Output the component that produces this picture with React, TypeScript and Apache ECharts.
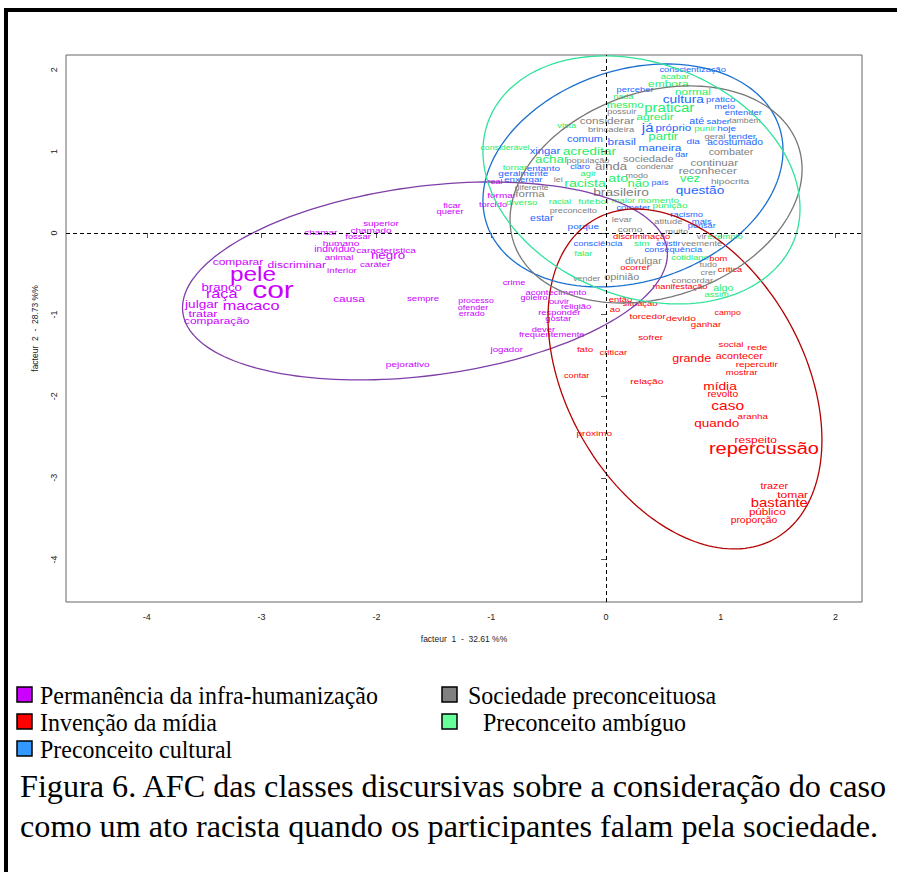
import React, { useEffect, useRef } from "react";
import * as echarts from "echarts";

// ---- DATA ----
const classNames = [
  "Permanência da infra-humanização",
  "Invenção da mídia",
  "Preconceito cultural",
  "Sociedade preconceituosa",
  "Preconceito ambíguo",
];

type W = [string, number, number, number]; // word, factor1, factor2, weight

const permanenciaWords: W[] = [
  ["ficar", -1.341, 0.335, 15], ["querer", -1.359, 0.27, 15], ["superior", -1.96, 0.123, 19],
  ["chamar", -2.485, 0.004, 19], ["chamado", -2.047, 0.037, 20], ["fossar", -2.16, -0.037, 15],
  ["humano", -2.308, -0.123, 21], ["indivíduo", -2.363, -0.2, 22], ["característica", -1.916, -0.208, 20],
  ["negro", -1.899, -0.27, 47], ["animal", -2.326, -0.303, 18], ["caráter", -2.012, -0.38, 18],
  ["inferior", -2.3, -0.453, 18], ["comparar", -3.206, -0.355, 36], ["discriminar", -2.694, -0.388, 37],
  ["pele", -3.075, -0.511, 135], ["cor", -2.901, -0.699, 180], ["branco", -3.348, -0.665, 46],
  ["raça", -3.348, -0.739, 70], ["macaco", -3.092, -0.895, 70], ["julgar", -3.522, -0.874, 49],
  ["tratar", -3.511, -0.984, 39], ["comparação", -3.391, -1.078, 35], ["causa", -2.239, -0.797, 35],
  ["sempre", -1.594, -0.8, 17], ["processo", -1.132, -0.825, 10], ["ofender", -1.159, -0.915, 12],
  ["errado", -1.17, -0.989, 12], ["pejorativo", -1.727, -1.605, 21], ["formar", -0.909, 0.466, 20],
  ["torcido", -0.984, 0.355, 15], ["real", -0.967, 0.629, 12], ["crime", -0.801, -0.609, 15],
  ["acontecimento", -0.436, -0.732, 15], ["goleiro", -0.627, -0.793, 12], ["ouvir", -0.409, -0.833, 15],
  ["religião", -0.261, -0.903, 15], ["responder", -0.407, -0.968, 15], ["gostar", -0.416, -1.045, 15],
  ["dever", -0.546, -1.18, 15], ["frequentemente", -0.473, -1.241, 15], ["jogador", -0.865, -1.425, 18],
];

const invencaoWords: W[] = [
  ["discriminação", 0.311, -0.045, 15], ["bom", 0.978, -0.31, 15], ["ocorrer", 0.253, -0.425, 15],
  ["crítica", 1.08, -0.453, 13], ["manifestação", 0.645, -0.65, 14], ["então", 0.126, -0.813, 15],
  ["situação", 0.296, -0.862, 15], ["ao", 0.078, -0.935, 15], ["torcedor", 0.363, -1.026, 19],
  ["devido", 0.653, -1.045, 21], ["ganhar", 0.871, -1.119, 18], ["campo", 1.06, -0.984, 10],
  ["sofrer", 0.389, -1.278, 18], ["social", 1.089, -1.364, 18], ["rede", 1.318, -1.406, 20],
  ["grande", 0.747, -1.536, 40], ["acontecer", 1.161, -1.507, 26], ["repercutir", 1.313, -1.609, 20],
  ["mostrar", 1.182, -1.707, 15], ["criticar", 0.064, -1.467, 15], ["fato", -0.183, -1.425, 18],
  ["contar", -0.255, -1.752, 13], ["relação", 0.355, -1.822, 21], ["mídia", 0.993, -1.884, 50],
  ["revolto", 1.017, -1.977, 22], ["caso", 1.06, -2.116, 64], ["aranha", 1.278, -2.251, 18],
  ["quando", 0.964, -2.332, 48], ["próximo", -0.102, -2.455, 20], ["respeito", 1.304, -2.528, 35],
  ["repercussão", 1.376, -2.638, 100], ["trazer", 1.466, -3.104, 27], ["tomar", 1.626, -3.199, 37],
  ["bastante", 1.51, -3.305, 59], ["público", 1.405, -3.411, 33], ["proporção", 1.289, -3.513, 23],
];

const culturalWords: W[] = [
  ["conscientização", 0.755, 2.006, 15], ["perceber", 0.253, 1.761, 15], ["cultura", 0.673, 1.638, 50],
  ["prático", 0.999, 1.638, 18], ["meio", 1.034, 1.548, 15], ["entender", 1.196, 1.474, 15],
  ["até", 0.79, 1.373, 25], ["saber", 0.978, 1.364, 15], ["hoje", 1.051, 1.283, 20],
  ["já", 0.363, 1.29, 60], ["próprio", 0.586, 1.283, 32], ["tender", 1.187, 1.189, 18],
  ["brasil", 0.137, 1.119, 35], ["dia", 0.76, 1.127, 20], ["acostumado", 1.124, 1.107, 22],
  ["maneira", 0.47, 1.045, 35], ["dar", 0.659, 0.964, 12], ["comum", -0.183, 1.152, 28],
  ["xingar", -0.531, 1.009, 30], ["claro", -0.226, 0.813, 13], ["entanto", -0.546, 0.793, 20],
  ["geralmente", -0.72, 0.732, 20], ["enxergar", -0.72, 0.658, 18], ["país", 0.47, 0.616, 12],
  ["questão", 0.819, 0.518, 49], ["cometer", 0.238, 0.31, 15], ["racismo", 0.703, 0.229, 15],
  ["mais", 0.834, 0.147, 15], ["pensar", 0.834, 0.086, 13], ["estar", -0.56, 0.18, 24],
  ["porque", -0.198, 0.077, 21], ["consciência", -0.07, -0.123, 15], ["existir", 0.543, -0.126, 15],
  ["consequência", 0.586, -0.2, 15],
];

const sociedadeWords: W[] = [
  ["possuir", 0.137, 1.487, 12], ["considerar", 0.009, 1.373, 34], ["brincadeira", 0.044, 1.271, 15],
  ["população", -0.157, 0.895, 15], ["ainda", 0.044, 0.809, 45], ["sociedade", 0.368, 0.903, 29],
  ["condenar", 0.427, 0.813, 12], ["modo", 0.267, 0.702, 12], ["combater", 1.089, 0.996, 26],
  ["continuar", 0.943, 0.862, 33], ["reconhecer", 0.886, 0.76, 33], ["hipócrita", 1.08, 0.629, 21],
  ["brasileiro", 0.131, 0.502, 50], ["preconceito", -0.285, 0.27, 13], ["levar", 0.137, 0.172, 14],
  ["atitude", 0.543, 0.147, 15], ["como", 0.209, 0.045, 20], ["muito", 0.616, 0.025, 15],
  ["vir", 0.834, -0.037, 15], ["veemente", 0.834, -0.126, 15], ["divulgar", 0.325, -0.343, 24],
  ["tudo", 0.891, -0.392, 12], ["crer", 0.891, -0.487, 12], ["concordar", 0.752, -0.585, 15],
  ["opinião", 0.137, -0.536, 27], ["vender", -0.168, -0.567, 11], ["geral", 0.949, 1.189, 15],
  ["também", 1.211, 1.373, 10], ["diferente", -0.647, 0.548, 10], ["lei", -0.416, 0.65, 12],
  ["forma", -0.662, 0.474, 32],
];

const ambiguoWords: W[] = [
  ["acabar", 0.601, 1.915, 15], ["embora", 0.543, 1.835, 36], ["normal", 0.758, 1.74, 34],
  ["nada", 0.151, 1.67, 13], ["mesmo", 0.166, 1.569, 30], ["praticar", 0.551, 1.536, 60],
  ["agredir", 0.427, 1.425, 36], ["punir", 0.862, 1.283, 18], ["partir", 0.499, 1.18, 45],
  ["vista", -0.342, 1.311, 13], ["considerável", -0.88, 1.038, 10], ["acreditar", -0.145, 0.996, 50],
  ["achar", -0.473, 0.895, 47], ["tornar", -0.793, 0.805, 15], ["agir", -0.154, 0.732, 15],
  ["ato", 0.107, 0.67, 55], ["não", 0.281, 0.616, 44], ["vez", 0.732, 0.67, 43],
  ["racista", -0.183, 0.616, 53], ["racial", -0.401, 0.384, 15], ["futebol", -0.111, 0.384, 20],
  ["diverso", -0.734, 0.376, 18], ["maior", 0.151, 0.404, 15], ["momento", 0.456, 0.404, 19],
  ["punição", 0.557, 0.335, 20], ["falar", -0.198, -0.249, 15], ["algo", 1.022, -0.678, 25],
  ["assim", 0.964, -0.751, 15], ["sim", 0.311, -0.126, 20], ["cotidiano", 0.732, -0.298, 15],
  ["exemplo", 1.037, -0.037, 15],
];

// confidence ellipses: [centre f1, centre f2, half-extent f1, half-extent f2, correlation]
const permanenciaEllipse = [-1.577, -0.588, 2.112, 1.213, 0.271];
const invencaoEllipse = [0.688, -1.789, 1.193, 2.083, -0.359];
const culturalEllipse = [0.235, 0.705, 1.307, 1.366, 0.224];
const sociedadeEllipse = [0.436, 0.472, 1.272, 1.33, 0.233];
const ambiguoEllipse = [0.309, 0.65, 1.381, 1.52, -0.23];

const xTicks = [-4, -3, -2, -1, 0, 1, 2];
const yTicks = [-4, -3, -2, -1, 0, 1, 2];
const xTitle = "facteur  1  -  32.61 %%";
const yTitle = "facteur  2  -  28.73 %%";
const captionLines = [
  "Figura 6. AFC das classes discursivas sobre a consideração do caso",
  "como um ato racista quando os participantes falam pela sociedade.",
];

// ---- STYLE ----
const wordColors = ["#cc00ff", "#ff0000", "#1a66ff", "#808080", "#1fee66"];
const ellipseColors = ["#7f3fa8", "#b40000", "#1a70d0", "#777777", "#2fe39a"];
const legendColors = ["#cc00ff", "#ff0000", "#3399ff", "#808080", "#66ff99"];
const SANS = "'Liberation Sans', Arial, sans-serif";
const SERIF = "'Liberation Serif', 'Times New Roman', serif";

function wordSeries(name: string, words: W[], color: string) {
  return {
    name,
    type: "custom",
    coordinateSystem: "cartesian2d",
    clip: true,
    z: 3,
    data: words.map((w) => [w[1], w[2], w[3]]),
    renderItem: (params: any, api: any) => {
      const i = params.dataIndex;
      const p = api.coord([api.value(0), api.value(1)]);
      const fs = 6 + api.value(2) * 0.1;
      return {
        type: "text",
        x: p[0],
        y: p[1],
        scaleX: 1.25,
        style: {
          text: words[i][0],
          fill: color,
          fontSize: fs,
          fontFamily: SANS,
          align: "center",
          verticalAlign: "middle",
        },
      };
    },
  };
}

function ellipseSeries(e: number[], color: string) {
  return {
    type: "custom",
    coordinateSystem: "cartesian2d",
    clip: true,
    z: 4,
    silent: true,
    data: [[e[0], e[1]]],
    renderItem: (_params: any, api: any) => {
      const pts: number[][] = [];
      const n = 180;
      const s = Math.sqrt(1 - e[4] * e[4]);
      for (let k = 0; k <= n; k++) {
        const t = (k / n) * Math.PI * 2;
        const x = e[0] + e[2] * Math.cos(t);
        const y = e[1] + e[3] * (e[4] * Math.cos(t) + s * Math.sin(t));
        pts.push(api.coord([x, y]));
      }
      return {
        type: "polyline",
        shape: { points: pts },
        style: { stroke: color, fill: null, lineWidth: 1.3 },
      };
    },
  };
}

export default function App() {
  const ref = useRef<HTMLDivElement>(null);
  useEffect(() => {
    if (!ref.current) return;
    const chart = echarts.init(ref.current, undefined, { renderer: "svg" });
    const allWords = [permanenciaWords, invencaoWords, culturalWords, sociedadeWords, ambiguoWords];
    const allEllipses = [permanenciaEllipse, invencaoEllipse, culturalEllipse, sociedadeEllipse, ambiguoEllipse];

    const legendPos = [
      [17, 687], [17, 714], [17, 741], [442, 687], [442, 714],
    ];
    const legendTextX = [40, 40, 40, 468, 483];

    const graphics: any[] = [
      { type: "line", shape: { x1: 6, y1: 8, x2: 6, y2: 872 }, style: { stroke: "#000", lineWidth: 4 } },
      { type: "line", shape: { x1: 4, y1: 10, x2: 897, y2: 10 }, style: { stroke: "#000", lineWidth: 4 } },
    ];
    classNames.forEach((c, i) => {
      graphics.push({
        type: "rect",
        shape: { x: legendPos[i][0], y: legendPos[i][1], width: 15, height: 15 },
        style: { fill: legendColors[i], stroke: "#000", lineWidth: 1.5 },
      });
      graphics.push({
        type: "text",
        x: legendTextX[i],
        y: legendPos[i][1] + 8,
        scaleX: 0.94,
        style: { text: c, fill: "#000", fontSize: 25.5, lineHeight: 24, fontFamily: SERIF, verticalAlign: "middle", align: "left" },
      });
    });
    captionLines.forEach((t, i) => {
      graphics.push({
        type: "text",
        x: 20,
        y: 786 + i * 40,
        style: { text: t, fill: "#000", fontSize: 32.2, fontFamily: SERIF, verticalAlign: "middle", align: "left" },
      });
    });

    chart.setOption({
      animation: false,
      backgroundColor: "#fff",
      grid: { left: 66, top: 55, width: 796, height: 547, show: true, borderColor: "#666", borderWidth: 1, backgroundColor: "transparent" },
      xAxis: {
        type: "value",
        min: -4.704,
        max: 2.23,
        splitLine: { show: false },
        axisLine: { show: false },
        axisTick: { show: true, customValues: xTicks, length: 5, lineStyle: { color: "#555" } },
        axisLabel: { customValues: xTicks, fontSize: 9, color: "#222", margin: 10, fontFamily: SANS },
        name: xTitle,
        nameLocation: "middle",
        nameGap: 32,
        nameTextStyle: { fontSize: 8.5, color: "#222", fontFamily: SANS },
      },
      yAxis: {
        type: "value",
        min: -4.522,
        max: 2.181,
        splitLine: { show: false },
        axisLine: { show: false },
        axisTick: { show: true, customValues: yTicks, length: 5, lineStyle: { color: "#555" } },
        axisLabel: { customValues: yTicks, fontSize: 9, color: "#222", margin: 8, rotate: 90, fontFamily: SANS },
        name: yTitle,
        nameLocation: "middle",
        nameGap: 27,
        nameRotate: 90,
        nameTextStyle: { fontSize: 8.5, color: "#222", fontFamily: SANS },
      },
      graphic: graphics,
      series: [
        {
          type: "scatter",
          data: [],
          markLine: {
            silent: true,
            symbol: ["none", "none"],
            label: { show: false },
            lineStyle: { type: [4, 3], color: "#000", width: 1 },
            data: [{ xAxis: 0 }, { yAxis: 0 }],
          },
        },
        ...allWords.map((w, i) => wordSeries(classNames[i], w, wordColors[i])),
        ...allEllipses.map((e, i) => ellipseSeries(e, ellipseColors[i])),
      ],
    });
    return () => chart.dispose();
  }, []);
  return <div ref={ref} style={{ position: "absolute", left: 0, top: 0, width: 897, height: 872 }} />;
}
